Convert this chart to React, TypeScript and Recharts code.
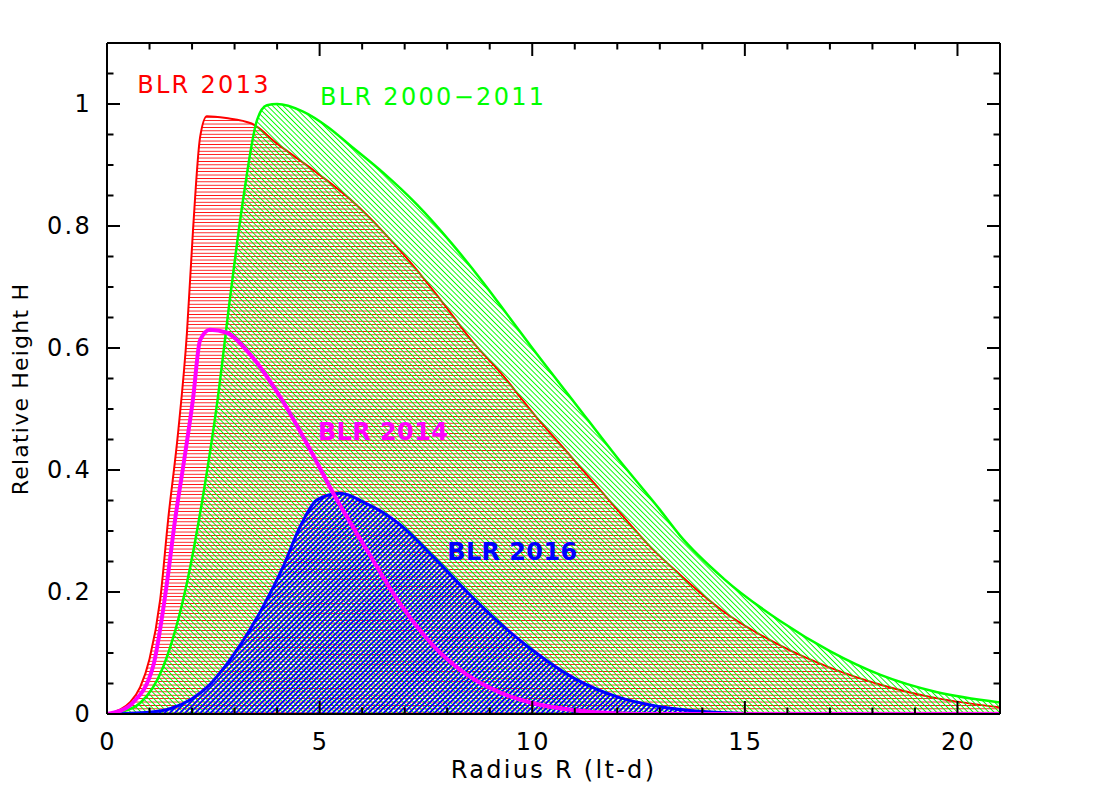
import React from 'react';
import { ComposedChart, Area, Line, XAxis, YAxis, ReferenceDot } from 'recharts';

const FONT = '"DejaVu Sans", Verdana, sans-serif';

// Radius (lt-d) and relative height for each BLR profile
const r2013 = [0, 0.3, 0.55, 0.78, 1.0, 1.25, 1.44, 1.67, 1.88, 2.02, 2.19, 2.35, 2.8, 3.4, 4.0, 4.94, 5.7, 6.5, 7.2, 7.9, 8.6, 9.25, 10, 11, 12, 12.78, 13.48, 14.5, 15.84, 17, 18.19, 19.5, 21];
const h2013 = [0, 0.007, 0.02, 0.044, 0.09, 0.187, 0.32, 0.46, 0.625, 0.79, 0.946, 0.98, 0.977, 0.968, 0.935, 0.887, 0.845, 0.79, 0.735, 0.674, 0.61, 0.56, 0.495, 0.415, 0.335, 0.274, 0.228, 0.168, 0.112, 0.076, 0.048, 0.026, 0.011];

const r2000 = [0, 0.3, 0.78, 1.32, 1.88, 2.24, 2.6, 2.89, 3.2, 3.53, 3.76, 4.0, 4.6, 5.2, 5.72, 6.5, 7.29, 8.1, 8.85, 9.25, 10, 11, 12, 13, 13.48, 14.5, 15.84, 17, 18.19, 19.5, 21];
const h2000 = [0, 0.003, 0.018, 0.077, 0.215, 0.35, 0.515, 0.68, 0.843, 0.974, 0.998, 1.0, 0.988, 0.962, 0.932, 0.887, 0.835, 0.772, 0.707, 0.67, 0.6, 0.51, 0.42, 0.335, 0.292, 0.222, 0.152, 0.103, 0.064, 0.036, 0.019];

const r2016 = [0, 1.0, 1.5, 2.0, 2.4, 2.8, 3.2, 3.6, 4.14, 4.54, 4.94, 5.48, 6.1, 6.5, 6.9, 7.67, 8.47, 9.25, 10, 11, 12, 13, 14, 15, 21];
const h2016 = [0, 0.003, 0.009, 0.025, 0.047, 0.08, 0.12, 0.167, 0.241, 0.307, 0.351, 0.362, 0.345, 0.33, 0.31, 0.258, 0.2, 0.148, 0.105, 0.058, 0.028, 0.012, 0.004, 0.001, 0];

const r2014 = [0, 0.3, 0.6, 1.08, 1.41, 1.6, 1.79, 2.02, 2.19, 2.42, 2.82, 3.36, 4.07, 4.78, 5.32, 6.1, 6.9, 7.67, 8.47, 9.25, 10, 11, 12, 13, 21];
const h2014 = [0, 0.005, 0.018, 0.077, 0.215, 0.318, 0.405, 0.515, 0.613, 0.63, 0.625, 0.59, 0.52, 0.433, 0.362, 0.27, 0.18, 0.112, 0.064, 0.035, 0.018, 0.006, 0.001, 0, 0];

const xTicks = [0, 1, 2, 3, 4, 5, 6, 7, 8, 9, 10, 11, 12, 13, 14, 15, 16, 17, 18, 19, 20, 21];
const yTicks = [0, 0.05, 0.1, 0.15, 0.2, 0.25, 0.3, 0.35, 0.4, 0.45, 0.5, 0.55, 0.6, 0.65, 0.7, 0.75, 0.8, 0.85, 0.9, 0.95, 1.0, 1.05];
const xMajor = [0, 5, 10, 15, 20];
const yMajor = [0, 0.2, 0.4, 0.6, 0.8, 1.0];
const yMajorLabels = ['0', '0.2', '0.4', '0.6', '0.8', '1'];

// label anchors: [text, r, h, colour, bold]
const seriesLabels: [string, number, number, string, boolean][] = [
  ['BLR 2013', 0.71, 1.031, '#ff0000', false],
  ['BLR 2000\u22122011', 5.01, 1.011, '#00ff00', false],
  ['BLR 2014', 4.96, 0.462, '#ff00ff', true],
  ['BLR 2016', 8.0, 0.266, '#0000ff', true],
];

const toData = (rs: number[], hs: number[]) => rs.map((r, i) => ({ r, h: hs[i] }));
const data2013 = toData(r2013, h2013);
const data2000 = toData(r2000, h2000);
const data2016 = toData(r2016, h2016);
const data2014 = toData(r2014, h2014);

const textStyle = { fontFamily: FONT, fontSize: 24, letterSpacing: 2.3 };

const isMajorX = (v: number) => xMajor.some((m) => Math.abs(m - v) < 1e-6);
const majorYIndex = (v: number) => yMajor.findIndex((m) => Math.abs(m - v) < 1e-6);

const BottomTick = (p: any) => {
  const v = p.payload.value;
  const major = isMajorX(v);
  return (
    <g>
      <line x1={p.x} x2={p.x} y1={p.y} y2={p.y - (major ? 13 : 6.5)} stroke="#000" strokeWidth={2} />
      {major && (
        <text x={p.x + 1} y={p.y + 28} textAnchor="middle" dominantBaseline="central" fill="#000" style={textStyle}>
          {String(v)}
        </text>
      )}
    </g>
  );
};

const TopTick = (p: any) => {
  const v = p.payload.value;
  const major = isMajorX(v);
  return <line x1={p.x} x2={p.x} y1={p.y} y2={p.y + (major ? 13 : 6.5)} stroke="#000" strokeWidth={2} />;
};

const LeftTick = (p: any) => {
  const v = p.payload.value;
  const idx = majorYIndex(v);
  return (
    <g>
      <line x1={p.x} x2={p.x + (idx >= 0 ? 13 : 6.5)} y1={p.y} y2={p.y} stroke="#000" strokeWidth={2} />
      {idx >= 0 && (
        <text x={p.x - 15} y={p.y} textAnchor="end" dominantBaseline="central" fill="#000" style={textStyle}>
          {yMajorLabels[idx]}
        </text>
      )}
    </g>
  );
};

const RightTick = (p: any) => {
  const v = p.payload.value;
  const idx = majorYIndex(v);
  return <line x1={p.x} x2={p.x - (idx >= 0 ? 13 : 6.5)} y1={p.y} y2={p.y} stroke="#000" strokeWidth={2} />;
};

const axisCommon = {
  tickSize: 0,
  tickMargin: 0,
  tickLine: false,
  interval: 0 as const,
  axisLine: { stroke: '#000', strokeWidth: 2 },
  allowDataOverflow: true,
};

export default function App() {
  return (
    <div style={{ position: 'relative', width: 1084, height: 780 }}>
      <svg width="0" height="0" style={{ position: 'absolute', left: 0, top: 0 }}>
        <defs>
          <pattern id="hatchRed" width="4" height="3.4" patternUnits="userSpaceOnUse">
            <rect x="0" y="0" width="4" height="1.25" fill="#ff0000" shapeRendering="crispEdges" />
          </pattern>
          <pattern id="hatchGreen" width="4" height="3.7" patternUnits="userSpaceOnUse" patternTransform="rotate(45)">
            <rect x="0" y="0" width="4" height="1.25" fill="#00ff00" shapeRendering="crispEdges" />
          </pattern>
          <pattern id="hatchBlue" width="4" height="3.6" patternUnits="userSpaceOnUse" patternTransform="rotate(-45)">
            <rect x="0" y="0" width="4" height="1.5" fill="#0000ff" shapeRendering="crispEdges" />
          </pattern>
        </defs>
      </svg>
      <ComposedChart width={1084} height={780} margin={{ top: 0, right: 0, bottom: 0, left: 0 }}>
        <XAxis
          xAxisId="b"
          orientation="bottom"
          type="number"
          dataKey="r"
          domain={[0, 21]}
          ticks={xTicks}
          height={74}
          tick={BottomTick}
          label={{
            content: (lp: any) => {
              const vb = lp.viewBox;
              return (
                <text x={vb.x + vb.width / 2} y={vb.y + 56} textAnchor="middle" dominantBaseline="central" fill="#000" style={textStyle}>
                  Radius R (lt-d)
                </text>
              );
            },
          }}
          {...axisCommon}
        />
        <XAxis
          xAxisId="t"
          orientation="top"
          type="number"
          dataKey="r"
          domain={[0, 21]}
          ticks={xTicks}
          height={35}
          tick={TopTick}
          {...axisCommon}
        />
        <YAxis
          yAxisId="l"
          orientation="left"
          type="number"
          domain={[0, 1.1]}
          ticks={yTicks}
          width={99}
          tick={LeftTick}
          label={{
            content: (lp: any) => {
              const vb = lp.viewBox;
              const x = vb.x + 12.5;
              const y = vb.y + 346;
              return (
                <text
                  x={x}
                  y={y}
                  transform={`rotate(-90, ${x}, ${y})`}
                  textAnchor="middle"
                  dominantBaseline="central"
                  fill="#000"
                  style={{ ...textStyle, fontSize: 22, letterSpacing: 1.2 }}
                >
                  Relative Height H
                </text>
              );
            },
          }}
          {...axisCommon}
        />
        <YAxis
          yAxisId="r"
          orientation="right"
          type="number"
          domain={[0, 1.1]}
          ticks={yTicks}
          width={92}
          tick={RightTick}
          {...axisCommon}
        />
        <Area
          data={data2013}
          xAxisId="b"
          yAxisId="l"
          dataKey="h"
          type="monotone"
          stroke="#ff0000"
          strokeWidth={2}
          fill="url(#hatchRed)"
          fillOpacity={1}
          isAnimationActive={false}
          dot={false}
          activeDot={false}
        />
        <Area
          data={data2000}
          xAxisId="b"
          yAxisId="l"
          dataKey="h"
          type="monotone"
          stroke="#00ff00"
          strokeWidth={2.5}
          fill="url(#hatchGreen)"
          fillOpacity={1}
          isAnimationActive={false}
          dot={false}
          activeDot={false}
        />
        <Area
          data={data2016}
          xAxisId="b"
          yAxisId="l"
          dataKey="h"
          type="monotone"
          stroke="#0000ff"
          strokeWidth={3}
          fill="url(#hatchBlue)"
          fillOpacity={1}
          isAnimationActive={false}
          dot={false}
          activeDot={false}
        />
        <Line
          data={data2014}
          xAxisId="b"
          yAxisId="l"
          dataKey="h"
          type="monotone"
          stroke="#ff00ff"
          strokeWidth={4}
          dot={false}
          activeDot={false}
          isAnimationActive={false}
        />
        {seriesLabels.map(([txt, x, y, col, bold]) => (
          <ReferenceDot
            key={txt}
            xAxisId="b"
            yAxisId="l"
            x={x}
            y={y}
            r={0}
            ifOverflow="visible"
            shape={(sp: any) => (
              <text
                x={sp.cx}
                y={sp.cy}
                textAnchor="start"
                dominantBaseline="central"
                fill={col}
                style={{ ...textStyle, fontWeight: bold ? 'bold' : 'normal', letterSpacing: bold ? 0.4 : 2.3 }}
              >
                {txt}
              </text>
            )}
          />
        ))}
      </ComposedChart>
    </div>
  );
}
